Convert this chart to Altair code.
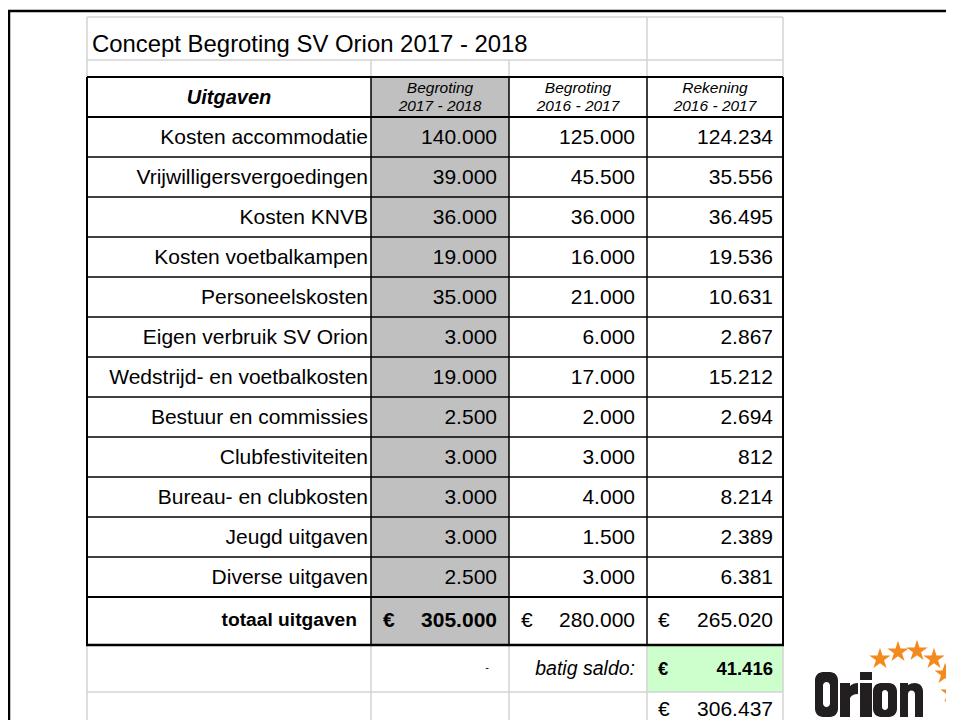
import altair as alt
import pandas as pd

# ---------------- data ----------------
title = "Concept Begroting SV Orion 2017 - 2018"
section = "Uitgaven"
col_headers = [("Begroting", "2017 - 2018"), ("Begroting", "2016 - 2017"), ("Rekening", "2016 - 2017")]
categories = [
    "Kosten accommodatie", "Vrijwilligersvergoedingen", "Kosten KNVB",
    "Kosten voetbalkampen", "Personeelskosten", "Eigen verbruik SV Orion",
    "Wedstrijd- en voetbalkosten", "Bestuur en commissies", "Clubfestiviteiten",
    "Bureau- en clubkosten", "Jeugd uitgaven", "Diverse uitgaven",
]
begroting_2017_2018 = [140000, 39000, 36000, 19000, 35000, 3000, 19000, 2500, 3000, 3000, 3000, 2500]
begroting_2016_2017 = [125000, 45500, 36000, 16000, 21000, 6000, 17000, 2000, 3000, 4000, 1500, 3000]
rekening_2016_2017 = [124234, 35556, 36495, 19536, 10631, 2867, 15212, 2694, 812, 8214, 2389, 6381]
total_label = "totaal uitgaven"
totals = [305000, 280000, 265020]
saldo_label = "batig saldo:"
saldo_value = 41416
grand_total = 306437

# ---------------- layout ----------------
X0, X1 = 8, 946
Y0, Y1 = 8, 720
col_edges = [87, 371, 509, 647, 783]
title_top, title_bot = 17, 60
head_top, head_bot = 77, 117
row_h = 40
data_top = head_bot
data_bot = data_top + row_h * len(categories)
total_bot = data_bot + 48
saldo_bot = total_bot + 47
last_bot = 730

LIGHT = "#d3d3d3"
BLACK = "#000000"
FONT = "Liberation Sans"

def fmt(v):
    return f"{v:,}".replace(",", ".")

xs = alt.Scale(domain=[X0, X1], range=[0, X1 - X0], nice=False, zero=False)
ys = alt.Scale(domain=[Y0, Y1], range=[0, Y1 - Y0], nice=False, zero=False)

# fills
fills = pd.DataFrame([
    dict(x=col_edges[1], x2=col_edges[2], y=head_top, y2=total_bot, c="#c0c0c0"),
    dict(x=col_edges[3], x2=col_edges[4], y=total_bot, y2=saldo_bot, c="#ccffcc"),
])
fill_layer = alt.Chart(fills).mark_rect(clip=True).encode(
    x=alt.X("x:Q", scale=xs, axis=None), x2="x2",
    y=alt.Y("y:Q", scale=ys, axis=None), y2="y2",
    color=alt.Color("c:N", scale=None),
)

# lines
lines = []
def L(x, x2, y, y2, c, w):
    lines.append(dict(x=x, x2=x2, y=y, y2=y2, c=c, w=w))

# outer page frame
L(X0, X1 + 20, 11, 11, BLACK, 2.5)
L(9, 9, 11, Y1 + 20, BLACK, 2.5)
# light grid top area
L(col_edges[0], col_edges[4], title_top, title_top, LIGHT, 1.5)
L(col_edges[0], col_edges[4], title_bot, title_bot, LIGHT, 1.5)
for xe in [col_edges[0], col_edges[3], col_edges[4]]:
    L(xe, xe, title_top, head_top, LIGHT, 1.5)
for xe in [col_edges[1], col_edges[2]]:
    L(xe, xe, title_bot, head_top, LIGHT, 1.5)
# light grid bottom area
for xe in col_edges:
    L(xe, xe, total_bot, last_bot, LIGHT, 1.5)
L(col_edges[0], col_edges[4], saldo_bot, saldo_bot, LIGHT, 1.5)
# black table
L(col_edges[0], col_edges[4], head_top, head_top, BLACK, 2)
L(col_edges[0], col_edges[4], head_bot, head_bot, BLACK, 2)
for i in range(1, len(categories) + 1):
    yy = data_top + i * row_h
    L(col_edges[0], col_edges[4], yy, yy, BLACK, 2 if i == len(categories) else 1.5)
L(col_edges[0] - 1, col_edges[4] + 1, total_bot, total_bot, BLACK, 2.5)
for j, xe in enumerate(col_edges):
    L(xe, xe, head_top, total_bot, BLACK, 2 if j in (0, 4) else 1.5)

line_layer = alt.Chart(pd.DataFrame(lines)).mark_rule(clip=True).encode(
    x=alt.X("x:Q", scale=xs, axis=None), x2="x2",
    y=alt.Y("y:Q", scale=ys, axis=None), y2="y2",
    color=alt.Color("c:N", scale=None),
    strokeWidth=alt.StrokeWidth("w:Q", scale=None),
)

# texts
def text_layer(rows, **props):
    df = pd.DataFrame(rows, columns=["x", "y", "t"])
    base = dict(font=FONT, baseline="middle", color="#000000")
    base.update(props)
    return alt.Chart(df).mark_text(**base).encode(
        x=alt.X("x:Q", scale=xs, axis=None),
        y=alt.Y("y:Q", scale=ys, axis=None),
        text="t:N",
    )

def cy(i):
    return data_top + row_h * i + row_h / 2 + 0.5

col_right = [col_edges[1] - 3, col_edges[2] - 12, col_edges[3] - 12, col_edges[4] - 10]
col_mid = [(col_edges[k] + col_edges[k + 1]) / 2 for k in range(4)]
FS = 21

layers = [fill_layer, line_layer]
layers.append(text_layer([(92, 45, title)], align="left", fontSize=23.9))
layers.append(text_layer([(col_mid[0], 98, section)], align="center", fontSize=20,
                         fontWeight="bold", fontStyle="italic"))
hdr = []
for k, (a, b) in enumerate(col_headers):
    hdr.append((col_mid[k + 1], 88, a))
    hdr.append((col_mid[k + 1], 106, b))
layers.append(text_layer(hdr, align="center", fontSize=15.5, fontStyle="italic"))
layers.append(text_layer([(col_right[0], cy(i), c) for i, c in enumerate(categories)],
                         align="right", fontSize=FS))
vals = []
for k, series in enumerate([begroting_2017_2018, begroting_2016_2017, rekening_2016_2017]):
    for i, v in enumerate(series):
        vals.append((col_right[k + 1], cy(i), fmt(v)))
layers.append(text_layer(vals, align="right", fontSize=FS))

ty = (data_bot + total_bot) / 2
layers.append(text_layer([(col_edges[1] - 14, ty - 1, total_label)], align="right",
                         fontSize=19.2, fontWeight="bold"))
layers.append(text_layer([(col_edges[1] + 12, ty, "€")], align="left", fontSize=FS,
                         fontWeight="bold"))
layers.append(text_layer([(col_right[1], ty, fmt(totals[0]))], align="right", fontSize=FS,
                         fontWeight="bold"))
layers.append(text_layer([(col_edges[2] + 12, ty, "€"), (col_edges[3] + 11, ty, "€")],
                         align="left", fontSize=FS))
layers.append(text_layer([(col_right[2], ty, fmt(totals[1])), (col_right[3], ty, fmt(totals[2]))],
                         align="right", fontSize=FS))

sy = (total_bot + saldo_bot) / 2
layers.append(text_layer([(col_edges[2] - 22, sy - 1, "-")], align="center", fontSize=11))
layers.append(text_layer([(col_right[2], sy, saldo_label)], align="right", fontSize=19.5,
                         fontStyle="italic"))
layers.append(text_layer([(col_edges[3] + 11, sy, "€")], align="left", fontSize=18.5,
                         fontWeight="bold"))
layers.append(text_layer([(col_right[3], sy, fmt(saldo_value))], align="right", fontSize=18.5,
                         fontWeight="bold"))
gy = 710
layers.append(text_layer([(col_edges[3] + 11, gy, "€")], align="left", fontSize=FS))
layers.append(text_layer([(col_right[3], gy, fmt(grand_total))], align="right", fontSize=FS))

# logo (letter outlines drawn as one custom symbol, pixel units: size=4 -> scale 1)
LOGO = (
    "M-46,-23L-39,-23A8,8,0,0,1,-31,-15L-31,14A8,8,0,0,1,-39,22L-46,22A8,8,0,0,1,-54,14L-54,-15A8,8,0,0,1,-46,-23Z"
    "M-42.5,-13A3.5,3.5,0,0,0,-46,-9.5L-46,8.5A3.5,3.5,0,0,0,-42.5,12A3.5,3.5,0,0,0,-39,8.5L-39,-9.5A3.5,3.5,0,0,0,-42.5,-13Z"
    "M-29,-12L-19,-12L-19,-9Q-16,-12,-11,-12L-11,-1Q-17,-1,-19,3L-19,22L-29,22Z"
    "M-9,-23L3,-23L3,-15L-9,-15ZM-9,-12L3,-12L3,22L-9,22Z"
    "M12,-12L20,-12A8,8,0,0,1,28,-4L28,14A8,8,0,0,1,20,22L12,22A8,8,0,0,1,4,14L4,-4A8,8,0,0,1,12,-12Z"
    "M16,-5A3,3,0,0,0,13,-2L13,12A3,3,0,0,0,16,15A3,3,0,0,0,19,12L19,-2A3,3,0,0,0,16,-5Z"
    "M31,-12L39,-12L39,-10Q42,-12,46,-12A8,8,0,0,1,54,-4L54,22L46,22L46,-1A3.5,3.5,0,0,0,39,-1L39,22L31,22Z"
)
logo_df = pd.DataFrame({"x": [869], "y": [695]})
layers.append(alt.Chart(logo_df).mark_point(
    shape=LOGO, filled=True, color="#231f20", opacity=1, size=4, strokeWidth=0
).encode(x=alt.X("x:Q", scale=xs, axis=None), y=alt.Y("y:Q", scale=ys, axis=None)))

star_x = [880, 898, 917, 934, 945, 951]
star_y = [659, 652, 651, 659, 674, 693]
STAR = "M0,-1L0.2245,-0.309L0.951,-0.309L0.363,0.118L0.588,0.809L0,0.382L-0.588,0.809L-0.363,0.118L-0.951,-0.309L-0.2245,-0.309Z"
layers.append(alt.Chart(pd.DataFrame({"x": star_x, "y": star_y})).mark_point(
    shape=STAR, filled=True, color="#f28a1e", opacity=1, size=500, strokeWidth=0, clip=True
).encode(x=alt.X("x:Q", scale=xs, axis=None), y=alt.Y("y:Q", scale=ys, axis=None)))

chart = alt.layer(*layers).properties(
    width=X1 - X0, height=Y1 - Y0, padding=0,
    autosize=alt.AutoSizeParams(type="none"),
).configure_view(stroke=None)

chart.save("out.html", embed_options={"renderer": "svg", "actions": False})
